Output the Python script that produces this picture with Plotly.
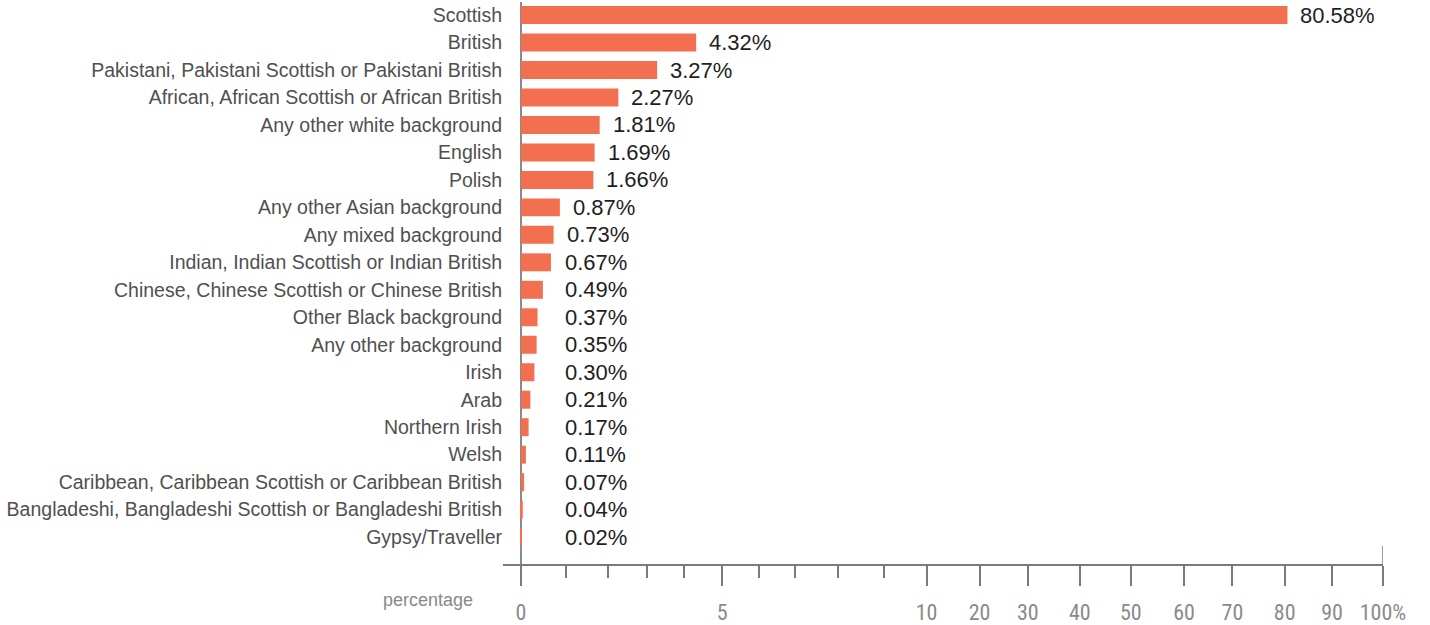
import numpy as np
import plotly.graph_objects as go

# ---- data ----
categories = [
    "Scottish", "British", "Pakistani, Pakistani Scottish or Pakistani British",
    "African, African Scottish or African British", "Any other white background",
    "English", "Polish", "Any other Asian background", "Any mixed background",
    "Indian, Indian Scottish or Indian British", "Chinese, Chinese Scottish or Chinese British",
    "Other Black background", "Any other background", "Irish", "Arab", "Northern Irish",
    "Welsh", "Caribbean, Caribbean Scottish or Caribbean British",
    "Bangladeshi, Bangladeshi Scottish or Bangladeshi British", "Gypsy/Traveller",
]
values = [80.58, 4.32, 3.27, 2.27, 1.81, 1.69, 1.66, 0.87, 0.73, 0.67,
          0.49, 0.37, 0.35, 0.30, 0.21, 0.17, 0.11, 0.07, 0.04, 0.02]
tick_values = [0, 5, 10, 20, 30, 40, 50, 60, 70, 80, 90, 100]
tick_labels = ["0", "5", "10", "20", "30", "40", "50", "60", "70", "80", "90", "100%"]
minor_tick_values = [1, 2, 3, 4, 6, 7, 8, 9]

# ---- polylinear scale of the original chart (value -> axis units) ----
scale_domain = [0, 1, 2, 3, 4, 5, 6, 7, 8, 9, 10, 20, 30, 40, 50, 60, 70, 80, 90, 100]
scale_range = [0, 44.7, 86.7, 126.3, 163, 201.3, 237.7, 274, 316.7, 362.7, 405.7,
               458.7, 507, 559, 610, 663.3, 711.7, 764, 811.3, 862.3]


def scale(v):
    return np.interp(v, scale_domain, scale_range)


BAR = "#F26F50"
AXIS = "#7a7a7a"

x_scaled = [float(scale(v)) for v in values]

fig = go.Figure()
fig.add_trace(go.Bar(
    x=x_scaled, y=categories, orientation="h",
    marker=dict(color=BAR, line=dict(width=0)),
    width=0.655, hoverinfo="skip",
))

for cat, v, xs in zip(categories, values, x_scaled):
    fig.add_annotation(
        x=max(xs + 11, 42), y=cat, xref="x", yref="y",
        text=f"{v:.2f}%", showarrow=False, xanchor="left", yanchor="middle",
        font=dict(family="Liberation Sans, Arial, sans-serif", size=22, color="#1e1e1e"),
    )

fig.add_annotation(
    x=(428 - 503) / 880.3, y=(564 - 600) / 562, xref="paper", yref="paper",
    text="percentage", showarrow=False, xanchor="center", yanchor="middle",
    font=dict(family="Liberation Sans, Arial, sans-serif", size=18, color="#888"),
)

# end tick at 100% rising above the axis
fig.add_shape(type="line", xref="x", yref="paper",
              x0=float(scale(100)), x1=float(scale(100)), y0=0, y1=(564 - 545.7) / 562,
              line=dict(color=AXIS, width=1.5))

fig.update_layout(
    width=1430, height=625,
    margin=dict(l=503, r=1430 - 1383.3, t=2, b=61, autoexpand=False),
    paper_bgcolor="white", plot_bgcolor="white",
    showlegend=False,
    xaxis=dict(
        range=[-18, float(scale(100))],
        tickmode="array", tickvals=[float(scale(t)) for t in tick_values], ticktext=tick_labels,
        ticks="outside", ticklen=20, tickwidth=1.5, tickcolor=AXIS,
        showline=True, linecolor=AXIS, linewidth=1.5,
        showgrid=False,
        zeroline=True, zerolinecolor="#8a8a8a", zerolinewidth=1.5,
        tickfont=dict(family="Liberation Sans Narrow, Arial Narrow, Roboto Condensed, sans-serif",
                      size=22, color="#8a8a8a"),
        ticklabelstandoff=8,
        automargin=False,
        minor=dict(tickmode="array", tickvals=[float(scale(t)) for t in minor_tick_values],
                   ticks="outside", ticklen=12, tickwidth=1.5, tickcolor=AXIS, showgrid=False),
        fixedrange=True,
    ),
    yaxis=dict(
        type="category", categoryorder="array", categoryarray=categories,
        range=[19.98, -0.475],
        ticks="", showline=False, showgrid=False, zeroline=False,
        tickfont=dict(family="Liberation Sans, Arial, sans-serif", size=19.5, color="#505050"),
        ticklabelstandoff=0,
        automargin=False,
        fixedrange=True,
    ),
)

fig.write_html(
    "out.html",
    config={"displayModeBar": False},
    post_script="document.body.style.margin='0';document.body.style.padding='0';",
)
